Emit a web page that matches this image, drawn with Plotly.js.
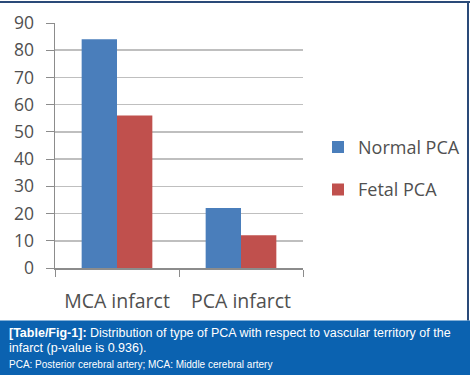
<!DOCTYPE html>
<html>
<head>
<meta charset="utf-8">
<script src="https://cdn.plot.ly/plotly-3.0.1.min.js"></script>
<style>html,body{margin:0;padding:0;background:#fff;}#chart{width:470px;height:375px;}</style>
</head>
<body>
<div id="chart"></div>
<script>
const categories = ["MCA infarct", "PCA infarct"];
const normalPCA = [84, 22];
const fetalPCA = [56, 12];
const seriesNames = ["Normal PCA", "Fetal PCA"];
const yTicks = [0, 10, 20, 30, 40, 50, 60, 70, 80, 90];

const W = 470, H = 375;
const L = 55, R = 303, T = 23, B = 268.4;
const px = x => (x - L) / (R - L);
const py = y => (B - y) / (B - T);

const font = "'Open Sans', Lato, sans-serif";
const cap = "'Liberation Sans', Arial, sans-serif";

const data = [
  {type: "bar", name: seriesNames[0], x: categories, y: normalPCA,
   marker: {color: "#4a7ebb"}, legendgroup: "a"},
  {type: "bar", name: seriesNames[1], x: categories, y: fetalPCA,
   marker: {color: "#c0504d"}, legendgroup: "b"}
];

const layout = {
  width: W, height: H,
  margin: {l: L, r: W - R, t: T, b: H - B, autoexpand: false},
  paper_bgcolor: "#fff", plot_bgcolor: "#fff",
  barmode: "group", bargap: 0.43, bargroupgap: 0,
  font: {family: font, color: "#505050"},
  xaxis: {
    type: "category", tickson: "boundaries", ticks: "outside", ticklen: 7,
    tickcolor: "#8c8c8c", showline: true, linecolor: "#8c8c8c", linewidth: 1.5,
    showgrid: false, ticklabelstandoff: 15,
    tickfont: {size: 19.5, color: "#505050", family: font}
  },
  yaxis: {
    range: [0, 90], tickvals: yTicks, ticks: "outside", ticklen: 8,
    tickcolor: "#8c8c8c", showline: true, linecolor: "#8c8c8c", linewidth: 1.5,
    gridcolor: "#bfbfbf", gridwidth: 1.5, zeroline: false, ticklabelstandoff: 8,
    tickfont: {size: 17.5, color: "#505050", family: font}
  },
  showlegend: true,
  legend: {x: px(318), y: py(129), xanchor: "left", yanchor: "top",
    traceorder: "grouped", tracegroupgap: 16,
    font: {size: 18, color: "#505050", family: font}, bgcolor: "rgba(0,0,0,0)"},
  shapes: [
    {type: "line", xref: "paper", yref: "paper", x0: px(0), x1: px(470), y0: py(2), y1: py(2),
     line: {color: "#2a4a78", width: 2}},
    {type: "line", xref: "paper", yref: "paper", x0: px(468), x1: px(468), y0: py(2), y1: py(321),
     line: {color: "#2a4a78", width: 2}},
    {type: "rect", xref: "paper", yref: "paper", x0: px(-2), x1: px(472), y0: py(321), y1: py(377),
     fillcolor: "#0b62b0", line: {width: 0}, layer: "above"}
  ],
  annotations: [
    {xref: "paper", yref: "paper", x: px(7), y: py(334), xanchor: "left", yanchor: "middle",
     showarrow: false, align: "left",
     text: "<b>[Table/Fig-1]:</b> Distribution of type of PCA with respect to vascular territory of the",
     font: {family: cap, size: 12.5, color: "#fff"}},
    {xref: "paper", yref: "paper", x: px(7), y: py(349), xanchor: "left", yanchor: "middle",
     showarrow: false, align: "left",
     text: "infarct (p-value is 0.936).",
     font: {family: cap, size: 12.5, color: "#fff"}},
    {xref: "paper", yref: "paper", x: px(7), y: py(365), xanchor: "left", yanchor: "middle",
     showarrow: false, align: "left",
     text: "PCA: Posterior cerebral artery; MCA: Middle cerebral artery",
     font: {family: cap, size: 10, color: "#fff"}}
  ]
};

Plotly.newPlot("chart", data, layout, {displayModeBar: false, staticPlot: true});
</script>
</body>
</html>
